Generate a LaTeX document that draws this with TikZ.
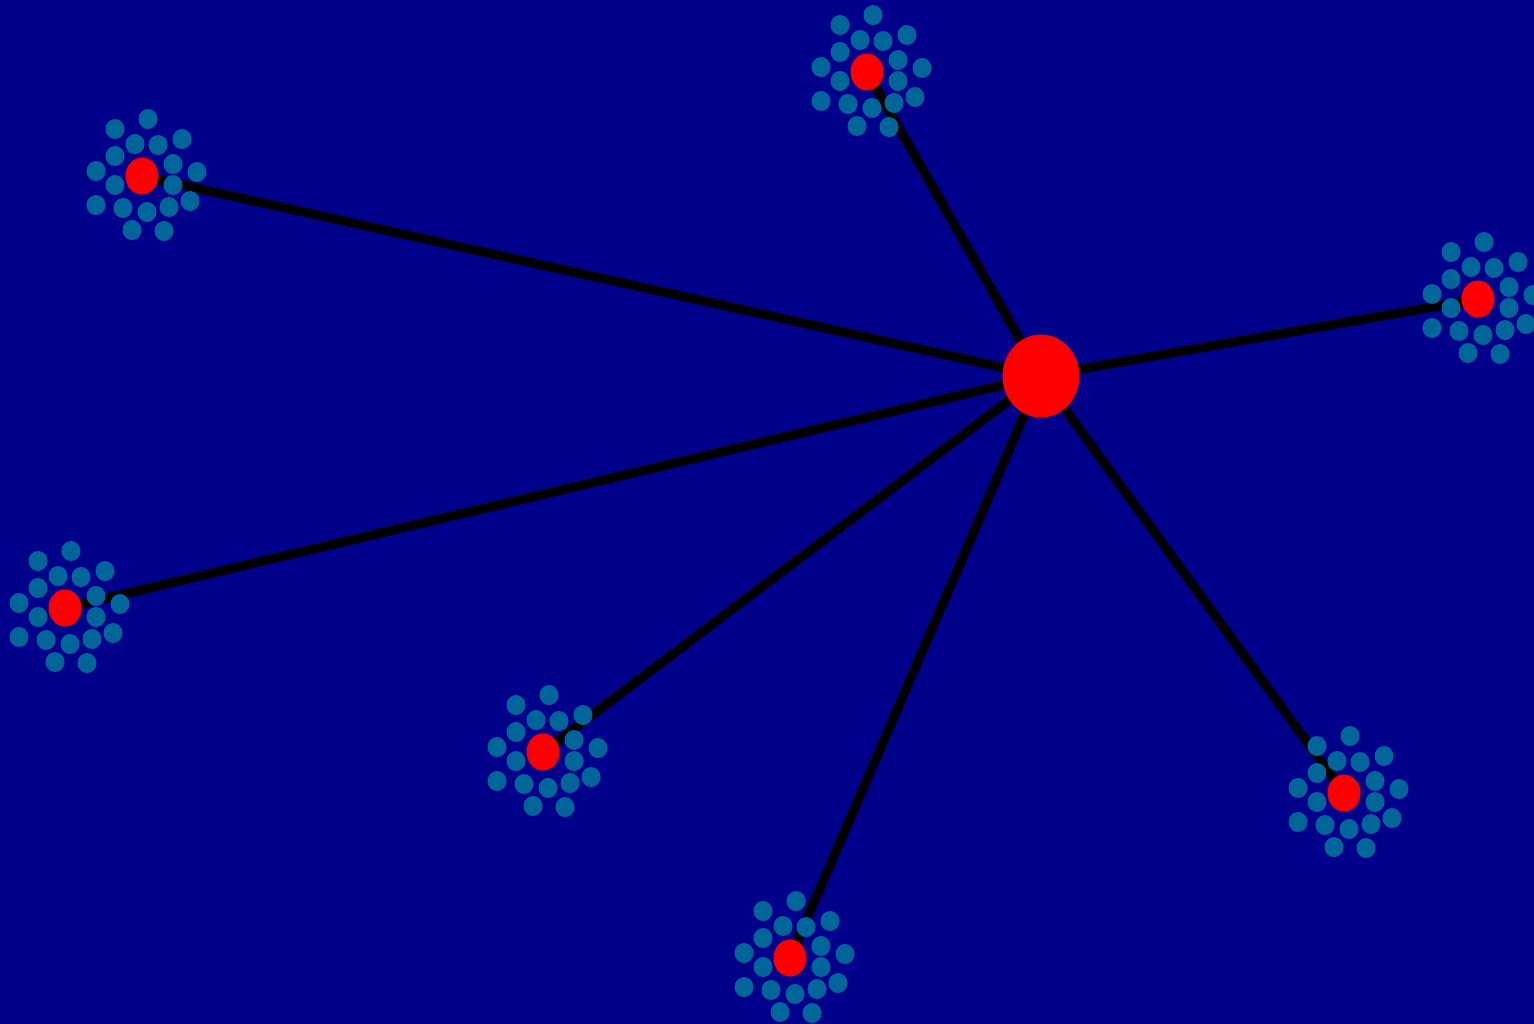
\documentclass[tikz,border=0pt]{standalone}
\usetikzlibrary{shapes.geometric}
\definecolor{bgblue}{RGB}{0,0,139}
\definecolor{dotteal}{RGB}{0,102,153}
\definecolor{nodered}{RGB}{255,0,0}
\pgfdeclarelayer{bglayer}
\pgfdeclarelayer{linklayer}
\pgfsetlayers{bglayer,linklayer,main}
\tikzset{
  hubnode/.style={ellipse, fill=nodered, minimum width=77pt, minimum height=83pt, inner sep=0pt},
  leafnode/.style={ellipse, fill=nodered, minimum width=33pt, minimum height=37pt, inner sep=0pt},
  satdot/.style={ellipse, fill=dotteal, minimum width=19pt, minimum height=20pt, inner sep=0pt},
  link/.style={draw=black, line width=9.3pt}
}
\begin{document}
\begin{tikzpicture}[x=1pt,y=-1pt]
\begin{pgfonlayer}{bglayer}
\fill[bgblue] (0,0) rectangle (1534,1024);
\end{pgfonlayer}
\useasboundingbox (0,0) rectangle (1534,1024);
% satellite dots around each leaf
\foreach \n/\px/\py in {a/142/176,b/867/72,c/1478/299,d/65/608,e/543/752,f/1344/793,g/790/958}{
  \foreach \dx/\dy [count=\i] in {6/-57,-27/-47,-7/-32,16/-31,40/-37,-27/-20,31/-12,-46/-5,55/-4,-27/9,31/9,-46/29,-19/32,5/36,27/31,48/25,-10/54,22/55}{
    \node[satdot] (\n-d\i) at (\px+\dx,\py+\dy) {};
  }
}
% leaves and hub
\node[leafnode] (a) at (142,176) {};
\node[leafnode] (b) at (867,72) {};
\node[leafnode] (c) at (1478,299) {};
\node[leafnode] (d) at (65,608) {};
\node[leafnode] (e) at (543,752) {};
\node[leafnode] (f) at (1344,793) {};
\node[leafnode] (g) at (790,958) {};
\node[hubnode] (hub) at (1041,376) {};
% links
\begin{pgfonlayer}{linklayer}
\foreach \n in {a,b,c,d,e,f,g}{
  \draw[link] (hub.center) -- (\n.center);
}
\end{pgfonlayer}
\end{tikzpicture}
\end{document}
